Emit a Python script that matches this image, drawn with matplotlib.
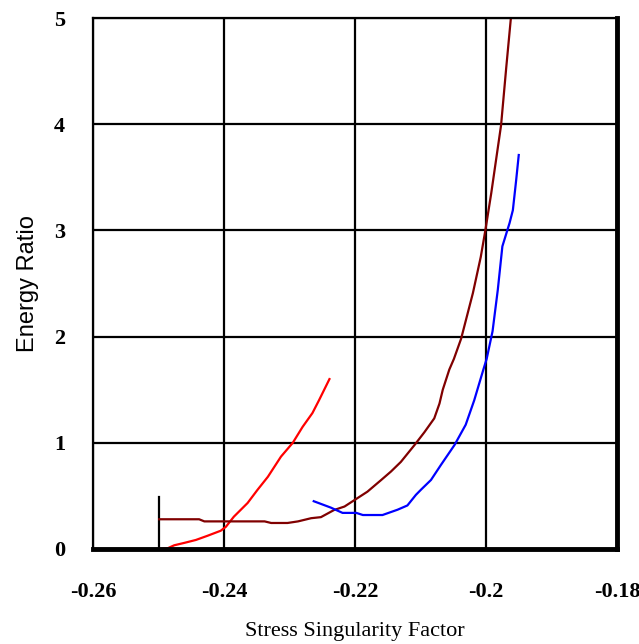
import matplotlib

matplotlib.use("Agg")

import matplotlib.pyplot as plt

# red series
red_x = [-0.2499, -0.2486, -0.2476, -0.2461, -0.2443, -0.2425, -0.2405, -0.2397,
         -0.2385, -0.2364, -0.2349, -0.2333, -0.2313, -0.2295, -0.2280, -0.2265,
         -0.2255, -0.2247, -0.2239]
red_y = [0.0, 0.007, 0.035, 0.057, 0.085, 0.125, 0.172, 0.210,
         0.304, 0.433, 0.556, 0.68, 0.87, 1.00, 1.15, 1.28,
         1.40, 1.50, 1.60]

# dark red series
dred_x = [-0.2499, -0.2438, -0.2430, -0.2338, -0.2328, -0.2303, -0.2287, -0.2267,
          -0.2252, -0.2232, -0.2216, -0.2201, -0.2181, -0.2160, -0.2145, -0.2130,
          -0.2109, -0.2094, -0.2079, -0.2071, -0.2066, -0.2056, -0.2049, -0.2038,
          -0.2020, -0.2008, -0.2001, -0.1992, -0.1977, -0.1969, -0.1962]
dred_y = [0.28, 0.28, 0.26, 0.26, 0.245, 0.245, 0.26, 0.29,
          0.30, 0.367, 0.40, 0.46, 0.54, 0.65, 0.73, 0.82,
          0.98, 1.10, 1.23, 1.37, 1.50, 1.69, 1.79, 1.98,
          2.41, 2.75, 3.00, 3.35, 3.99, 4.54, 5.0]

# blue series
blue_x = [-0.2263, -0.2237, -0.2219, -0.2198, -0.2188, -0.2158, -0.2135, -0.2120,
          -0.2107, -0.2099, -0.2084, -0.2069, -0.2048, -0.2031, -0.2018, -0.2004,
          -0.1999, -0.1990, -0.1982, -0.1975, -0.1964, -0.1959, -0.1954, -0.1950]
blue_y = [0.45, 0.39, 0.34, 0.34, 0.32, 0.32, 0.37, 0.41,
          0.51, 0.56, 0.65, 0.79, 0.98, 1.17, 1.40, 1.69,
          1.79, 2.05, 2.44, 2.85, 3.07, 3.19, 3.47, 3.71]

# short vertical marker line
mark_x = [-0.25, -0.25]
mark_y = [0.0, 0.49]

x_ticks = [-0.26, -0.24, -0.22, -0.2, -0.18]
x_labels = ["-0.26", "-0.24", "-0.22", "-0.2", "-0.18"]
y_ticks = [0, 1, 2, 3, 4, 5]
y_labels = ["0", "1", "2", "3", "4", "5"]

fig = plt.figure(figsize=(6.39, 6.44), dpi=100)
ax = fig.add_axes([93 / 639, 1 - 549 / 644, 524 / 639, 531 / 644])

ax.plot(mark_x, mark_y, color="black", linewidth=1.6)
ax.plot(red_x, red_y, color="#ff0000", linewidth=1.6)
ax.plot(dred_x, dred_y, color="#800000", linewidth=1.6)
ax.plot(blue_x, blue_y, color="#0000ff", linewidth=1.6)

ax.set_xlim(-0.26, -0.18)
ax.set_ylim(0, 5)
ax.set_xticks(x_ticks)
ax.set_xticklabels(x_labels)
ax.set_yticks(y_ticks)
ax.set_yticklabels(y_labels)
ax.grid(True, color="black", linewidth=1.6)
ax.set_axisbelow(True)

for lab in ax.get_xticklabels() + ax.get_yticklabels():
    lab.set_family("Liberation Serif")
    lab.set_fontweight("bold")
    lab.set_fontsize(16)
ax.tick_params(axis="x", length=0, pad=24)
ax.tick_params(axis="y", length=0, pad=20)

ax.set_xlabel("Stress Singularity Factor", family="Liberation Serif",
              fontsize=16, labelpad=14)
ax.set_ylabel("Energy Ratio", family="Liberation Sans", fontsize=17, labelpad=11)

for side in ("left", "top"):
    ax.spines[side].set_linewidth(1.6)
for side in ("right", "bottom"):
    ax.spines[side].set_linewidth(3.5)

fig.savefig("out.png", dpi=100)
